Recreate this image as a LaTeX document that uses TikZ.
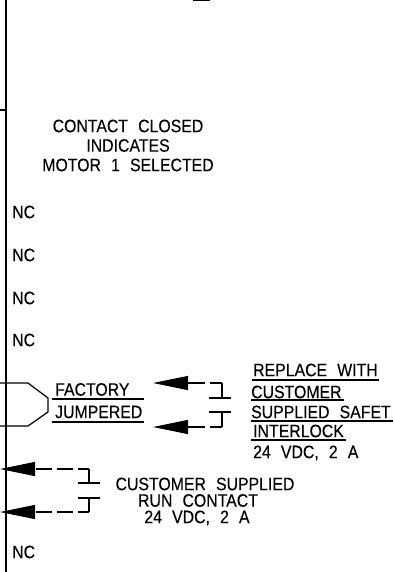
\documentclass[tikz,border=0pt]{standalone}
\usepackage{fontspec}
\setmainfont[FakeStretch=0.88,WordSpace=2.3,FakeBold=0.25]{Liberation Sans}
\usetikzlibrary{arrows.meta}
\tikzset{
	cadtext/.style={inner sep=0pt,font=\fontsize{18}{20}\selectfont},
	cadline/.style={line width=1.2pt,line cap=butt,line join=miter},
	wire/.style={cadline,-{Triangle[length=35pt,width=14pt]}},
}
\begin{document}
\begin{tikzpicture}[x=1pt,y=-1pt]
	\useasboundingbox (0,0) rectangle (393,572);
	% frame
	\draw[line width=1.6pt] (6,0) -- (6,572);
	\draw[cadline] (0,110) -- (6,110);
	\draw[line width=2pt] (193,0) -- (210,0);
	% motor note
	\node[cadtext] (note1) at (128,126) {CONTACT CLOSED};
	\node[cadtext] (note2) at (128,145.5) {INDICATES};
	\node[cadtext] (note3) at (128,165) {MOTOR 1 SELECTED};
	\foreach \y/\n in {212/1,255/2,298/3,340/4,552/5}
	\node[cadtext,anchor=west] (nc\n) at (12,\y) {NC};
	% jumper
	\draw[cadline] (0,383) -- (28,383) -- (48,398) -- (48,412) -- (28,426) -- (0,426);
	\node[cadtext,anchor=west] (factory) at (55,389.5) {FACTORY};
	\node[cadtext,anchor=west] (jumpered) at (55,412) {JUMPERED};
	\draw[cadline] (52,399) -- (144,399);
	\draw[cadline] (52,422) -- (144,422);
	% safety contact
	\coordinate (tipa) at (153,383);
	\coordinate (tipb) at (153,427);
	\coordinate (conta) at (222,383);
	\coordinate (contb) at (222,427);
	\coordinate (bara) at (222,398);
	\coordinate (barb) at (222,412);
	\draw[wire,dash pattern=on 12pt off 5pt on 17pt off 2pt] (conta) -- (tipa);
	\draw[wire,dash pattern=on 12pt off 5pt on 17pt off 2pt] (contb) -- (tipb);
	\draw[cadline] (conta) -- (bara) (contb) -- (barb);
	\draw[cadline] (209,398) -- (231,398);
	\draw[cadline] (209,412) -- (231,412);
	\node[cadtext,anchor=west] (rep1) at (253,370) {REPLACE WITH};
	\node[cadtext,anchor=west] (rep2) at (251,392) {CUSTOMER};
	\node[cadtext,anchor=west] (rep3) at (251,412) {SUPPLIED SAFET};
	\node[cadtext,anchor=west] (rep4) at (253,431) {INTERLOCK};
	\node[cadtext,anchor=west] (rep5) at (253,453) {24 VDC, 2 A};
	\draw[cadline] (252,380) -- (379,380);
	\draw[cadline] (251,400) -- (344,400);
	\draw[cadline] (251,421) -- (393,421);
	\draw[cadline] (251,440) -- (346,440);
	% run contact
	\coordinate (tipc) at (0,469);
	\coordinate (tipd) at (0,512);
	\coordinate (contc) at (89,469);
	\coordinate (contd) at (89,512);
	\coordinate (barc) at (89,483);
	\coordinate (bard) at (89,498);
	\draw[wire,dash pattern=on 11pt off 5pt on 16pt off 5pt on 16pt off 2pt] (contc) -- (tipc);
	\draw[wire,dash pattern=on 11pt off 5pt on 16pt off 5pt on 16pt off 2pt] (contd) -- (tipd);
	\draw[cadline] (contc) -- (barc) (contd) -- (bard);
	\draw[cadline] (78,483) -- (100,483);
	\draw[cadline] (78,498) -- (100,498);
	\node[cadtext] (run1) at (205,484) {CUSTOMER SUPPLIED};
	\node[cadtext] (run2) at (198,500.5) {RUN CONTACT};
	\node[cadtext] (run3) at (197,518) {24 VDC, 2 A};
\end{tikzpicture}
\end{document}
